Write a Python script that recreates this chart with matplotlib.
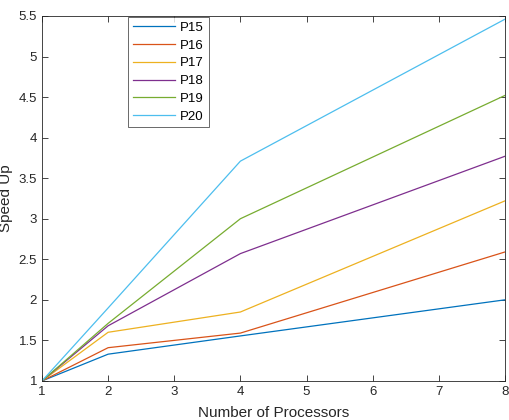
import matplotlib.pyplot as plt

plt.rcParams['font.family'] = ['Liberation Sans', 'DejaVu Sans']

processors = [1, 2, 4, 8]
p15 = [1, 1.33, 1.555, 2.0]
p16 = [1, 1.41, 1.59, 2.59]
p17 = [1, 1.60, 1.85, 3.22]
p18 = [1, 1.68, 2.57, 3.77]
p19 = [1, 1.71, 3.0, 4.52]
p20 = [1, 1.90, 3.71, 5.46]
series = [p15, p16, p17, p18, p19, p20]
names = ["P15", "P16", "P17", "P18", "P19", "P20"]
colors = ["#0072BD", "#D95319", "#EDB120", "#7E2F8E", "#77AC30", "#4DBEEE"]

fig = plt.figure(figsize=(5.09, 4.2), dpi=100)
ax = fig.add_axes([0.0825, 0.093, 0.9095, 0.869])

for vals, name, c in zip(series, names, colors):
    ax.plot(processors, vals, color=c, lw=0.9, label=name)

ax.set_xlim(1, 8)
ax.set_ylim(1, 5.5)
ax.set_xticks(range(1, 9))
ax.set_yticks([1, 1.5, 2, 2.5, 3, 3.5, 4, 4.5, 5, 5.5])
ax.set_yticklabels(["1", "1.5", "2", "2.5", "3", "3.5", "4", "4.5", "5", "5.5"])
ax.tick_params(direction='in', top=True, right=True, labelsize=9.5,
               colors='#262626', length=4, width=0.6)
for s in ax.spines.values():
    s.set_color('#262626')
    s.set_linewidth(0.6)

ax.set_xlabel("Number of Processors", fontsize=11, color='#262626', labelpad=6)
ax.set_ylabel("Speed Up", fontsize=11, color='#262626', labelpad=4)

leg = ax.legend(loc='upper left', bbox_to_anchor=(0.186, 0.997), fontsize=9.5,
                frameon=True, fancybox=False, edgecolor='#262626',
                handlelength=3.2, handletextpad=0.4, borderaxespad=0,
                labelspacing=0.42, borderpad=0.35)
leg.get_frame().set_linewidth(0.6)

fig.savefig("out.png", dpi=100)
